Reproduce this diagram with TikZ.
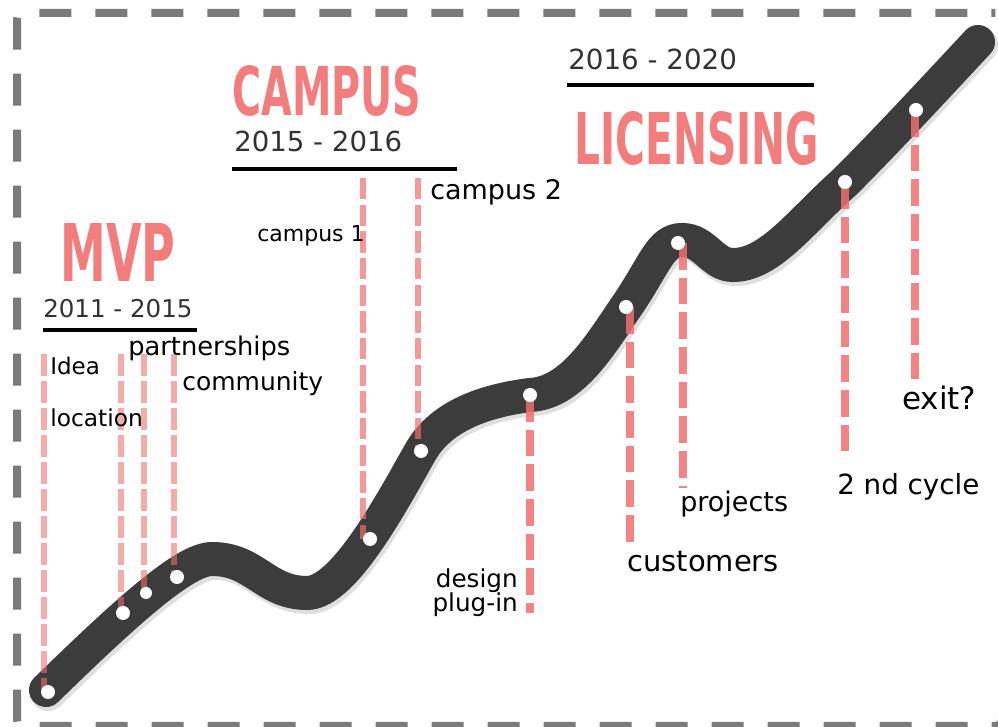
\documentclass[tikz,border=0pt]{standalone}
\usepackage{fontspec}
\setmainfont{DejaVu Sans}
\definecolor{road}{HTML}{3C3C3C}
\definecolor{milestone}{RGB}{240,110,110}
\definecolor{phasecol}{RGB}{243,124,124}
\definecolor{framecol}{HTML}{7A7A7A}
\definecolor{datecol}{HTML}{333333}

\begin{document}
\begin{tikzpicture}[x=.75pt, y=.75pt,
    dot/.style={circle, fill=white, inner sep=0pt, minimum size=10.5pt},
    txt/.style={inner sep=0pt, anchor=base west, text=black, font=\fontsize{#1}{#1}\selectfont},
    date/.style={inner sep=0pt, anchor=base west, text=datecol, font=\fontsize{#1}{#1}\selectfont},
    phase/.style={inner sep=0pt, anchor=south west, text=phasecol, font=\bfseries},
    early/.style={draw=milestone, opacity=.58, line width=5.2pt, dash pattern=on 16.5pt off 3.75pt},
    mid/.style={draw=milestone, opacity=.7, line width=5.2pt, dash pattern=on 16pt off 4pt},
    late/.style={draw=milestone, opacity=.85, line width=6.2pt, dash pattern=on 20pt off 6pt}]
    \useasboundingbox (0,0) rectangle (998,727);
    \clip (0,0) rectangle (998,727);
    % frame
    \draw[framecol, line width=6pt, dash pattern=on 24pt off 18pt, dash phase=21pt, rounded corners=5pt]
        (1002,714) -- (17,714) -- (17,1) -- (1002,1) -- cycle;
    % the road
    \draw[black!25, opacity=.5, line width=27pt, line cap=round, shift={(2,-3)}]
        (46,37) .. controls (128,117) and (185,168) .. (212,168)
        .. controls (255,168) and (265,134) .. (307,134)
        .. controls (345,134) and (395,231) .. (421,276)
        .. controls (443,314) and (491,327) .. (530,332)
        .. controls (572,334) and (600,382) .. (626,420)
        .. controls (655,462) and (660,487) .. (682,487)
        .. controls (705,487) and (712,462) .. (733,462)
        .. controls (770,462) and (800,505) .. (845,545)
        .. controls (890,590) and (950,655) .. (978,685);
    \draw[road, line width=25.5pt, line cap=round]
        (46,37) .. controls (128,117) and (185,168) .. (212,168)
        .. controls (255,168) and (265,134) .. (307,134)
        .. controls (345,134) and (395,231) .. (421,276)
        .. controls (443,314) and (491,327) .. (530,332)
        .. controls (572,334) and (600,382) .. (626,420)
        .. controls (655,462) and (660,487) .. (682,487)
        .. controls (705,487) and (712,462) .. (733,462)
        .. controls (770,462) and (800,505) .. (845,545)
        .. controls (890,590) and (950,655) .. (978,685);
    % milestones on the road
    \coordinate (d1) at (48,35);
    \coordinate (d2) at (123,114);
    \coordinate (d3) at (146,134);
    \coordinate (d4) at (177,150);
    \coordinate (d5) at (370,188);
    \coordinate (d6) at (421,276);
    \coordinate (d7) at (530,332);
    \coordinate (d8) at (626,420);
    \coordinate (d9) at (678,484);
    \coordinate (d10) at (845,545);
    \coordinate (d11) at (916,617);
    % ends of the pins
    \coordinate (t1) at (44,373);
    \coordinate (t2) at (121,373);
    \coordinate (t3) at (144,373);
    \coordinate (t4) at (174,373);
    \coordinate (t5) at (363,549);
    \coordinate (t6) at (418,549);
    \coordinate (b7) at (530,114);
    \coordinate (b8) at (630,184);
    \coordinate (b9) at (683,239);
    \coordinate (b10) at (845,272);
    \coordinate (b11) at (915,345);
    \foreach \i in {1,...,4}
        \draw[early] (t\i) -- (t\i |- d\i);
    \foreach \i in {5,6}
        \draw[mid] (t\i) -- (t\i |- d\i);
    \foreach \i in {7,...,11}
        \draw[late] (b\i |- d\i) -- (b\i);
    \foreach \i in {1,2,4,5,6,7,8,9,10,11}
        \node[dot] (dot\i) at (d\i) {};
    \node[dot, minimum size=9pt] (dot3) at (d3) {};
    % phases
    \node[phase] (mvp) at (60,445) {\resizebox{86.25pt}{43.5pt}{MVP}};
    \node[date=18.4] (mvpyears) at (43,409) {2011 - 2015};
    \draw[line width=3pt] (43,397) -- (197,397);
    \node[phase] (campus) at (232,610) {\resizebox{141.75pt}{37.5pt}{CAMPUS}};
    \node[date=20.7] (campusyears) at (234,575) {2015 - 2016};
    \draw[line width=3pt] (232,557.5) -- (457,557.5);
    \node[date=20.8] (licyears) at (568,657) {2016 - 2020};
    \draw[line width=3pt] (567,642) -- (814,642);
    \node[phase] (licensing) at (574,561) {\resizebox{183.75pt}{39.75pt}{LICENSING}};
    % labels
    \node[txt=17.25] (idea) at (50,352) {Idea};
    \node[txt=17.5] (location) at (50,300) {location};
    \node[txt=19.3] (partners) at (128,371) {partnerships};
    \node[txt=18.75] (community) at (182,336) {community};
    \node[txt=16.5] (campus1) at (257,485) {campus 1};
    \node[txt=20.25] (campus2) at (430,527) {campus 2};
    \node[txt=18.5, anchor=base east] (design) at (518,139) {design};
    \node[txt=18.5, anchor=base east] (plugin) at (518,115) {plug-in};
    \node[txt=21.75] (customers) at (627,155) {customers};
    \node[txt=20.25] (projects) at (680,215) {projects};
    \node[txt=20.8] (cycle) at (837,232) {2 nd cycle};
    \node[txt=23.25] (exit) at (902,317) {exit?};
\end{tikzpicture}
\end{document}
